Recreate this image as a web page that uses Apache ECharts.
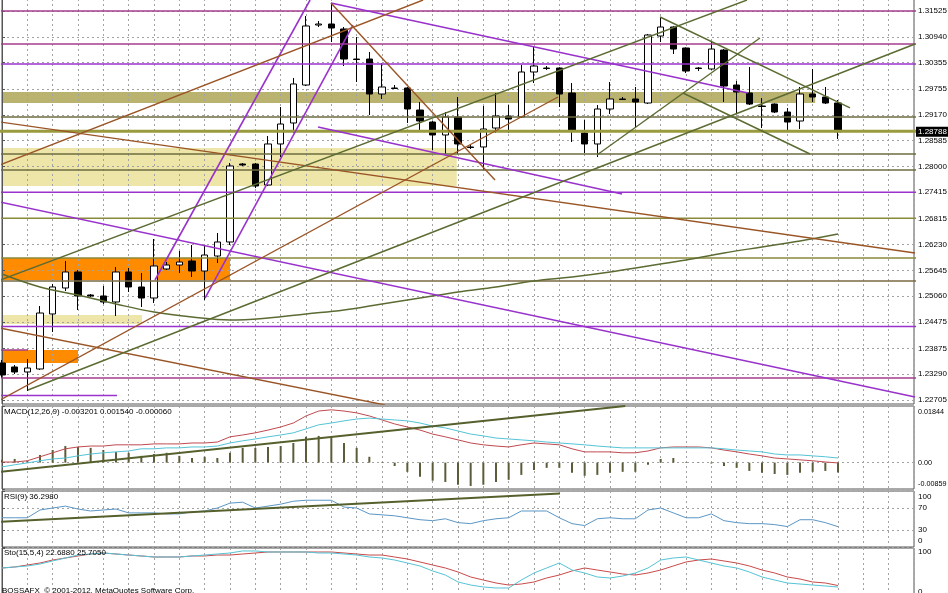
<!DOCTYPE html>
<html><head><meta charset="utf-8">
<script src="https://cdn.jsdelivr.net/npm/echarts@6/dist/echarts.min.js"></script>
<style>html,body{margin:0;padding:0;background:#fff}#c{width:948px;height:593px}</style>
</head><body><div id="c"></div>
<script>
// ---------- DATA ----------
const candleOpen = [1.23545,1.23454,1.23341,1.23409,1.24656,1.25245,1.25608,1.25086,1.25064,1.24928,
1.25608,1.25268,1.25018,1.25676,1.25766,1.25857,1.25630,1.25970,1.26288,1.28056,
1.28056,1.27580,1.28510,1.28986,1.29847,1.31207,1.31230,1.31117,1.30436,1.30436,
1.29643,1.29779,1.29779,1.29280,1.29008,1.28714,1.29122,1.28442,1.28442,1.28872,
1.29144,1.29122,1.30142,1.30232,1.30232,1.29666,1.28759,1.28510,1.29303,1.29530,
1.29530,1.29439,1.30958,1.31162,1.30686,1.30232,1.30210,1.30640,1.29847,1.29666,
1.29371,1.29416,1.29235,1.29031,1.29643,1.29575,1.29439];
const candleClose = [1.23273,1.23341,1.23431,1.24678,1.25268,1.25608,1.25064,1.25064,1.24928,1.25608,
1.25268,1.25018,1.25744,1.25766,1.25834,1.25630,1.25993,1.26288,1.28011,1.28033,
1.27557,1.28510,1.28963,1.29870,1.31185,1.31230,1.31139,1.30436,1.30425,1.29643,
1.29802,1.29768,1.29303,1.29031,1.28714,1.29122,1.28510,1.28430,1.28850,1.29144,
1.29076,1.30142,1.30278,1.30221,1.29643,1.28804,1.28510,1.29303,1.29530,1.29518,
1.29462,1.30981,1.31162,1.30663,1.30164,1.30221,1.30663,1.29824,1.29688,1.29416,
1.29360,1.29235,1.29008,1.29643,1.29575,1.29439,1.28788];
const candleLow = [1.23205,1.23295,1.22910,1.23386,1.24248,1.25177,1.24746,1.25041,1.24882,1.24610,
1.25154,1.24814,1.24905,1.25653,1.25585,1.25494,1.24973,1.25812,1.26220,1.28011,
1.27512,1.27557,1.28215,1.28759,1.29824,1.31162,1.30822,1.30278,1.29915,1.29167,
1.29530,1.29756,1.28986,1.28827,1.28373,1.28283,1.28283,1.28396,1.27920,1.28759,
1.28759,1.29100,1.29892,1.30187,1.29348,1.28555,1.28305,1.28215,1.29190,1.29507,
1.28872,1.29416,1.30822,1.30550,1.30119,1.30164,1.30190,1.29462,1.29212,1.29394,
1.28872,1.29212,1.28827,1.28850,1.29462,1.29416,1.28623];
const candleHigh = [1.23613,1.23499,1.23635,1.24837,1.25336,1.25857,1.25653,1.25109,1.25290,1.25721,
1.25698,1.25585,1.26356,1.25834,1.26084,1.26220,1.26220,1.26492,1.28079,1.28079,
1.28079,1.28691,1.29348,1.30006,1.31411,1.31298,1.31706,1.31162,1.30935,1.30595,
1.30346,1.29847,1.29800,1.29462,1.29031,1.29235,1.29575,1.28487,1.29371,1.29666,
1.29394,1.30300,1.30709,1.30278,1.30250,1.29892,1.29054,1.29394,1.29915,1.29575,
1.29802,1.31004,1.31389,1.31180,1.30700,1.30255,1.30822,1.30660,1.29938,1.30255,
1.29552,1.29430,1.29326,1.29802,1.30210,1.29802,1.29507];
const lastPrice = 1.28788;

// moving average curve: [bar index, price]
const maCurve = [[0,1.25562],[3,1.25268],[6,1.25086],[9,1.24882],[12,1.24701],[15,1.24588],[18,1.24520],
[21,1.24565],[24,1.24656],[27,1.24746],[30,1.24882],[33,1.25018],[36,1.25154],[39,1.25268],[42,1.25404],
[45,1.25494],[48,1.25608],[51,1.25744],[54,1.25880],[57,1.26039],[60,1.26175],[63,1.26311],[66,1.26469]];

const priceTicks = [1.31525,1.30940,1.30355,1.29755,1.29170,1.28585,1.28000,1.27415,1.26815,1.26230,1.25645,1.25060,1.24475,1.23875,1.23290,1.22705];
const priceRange = [1.22615, 1.31797];

// horizontal levels (prices)
const magentaLevels = [1.31525, 1.30777, 1.23205];
const violetLevels = [1.30323, 1.27415, 1.24372];
const darkOliveLevels = [1.29122, 1.28283, 1.27920];
const oliveLevels = [1.26825, 1.25925];
const brownOliveLevels = [1.25404];
const thickOliveLevels = [1.28800];
// short horizontal segments: [x1, x2, price]
const violetShort = [[-1, 9.08, 1.22808]];
const magentaShort = [[-1, 2.05, 1.23839]];

// zones: [x1, x2, priceTop, priceBottom]
const khakiZones = [[-1, 64.2, 1.29688, 1.29439]];
const paleZones = [[-1, 35.9, 1.28419, 1.27557], [-1, 11.05, 1.24633, 1.24429]];
const orangeZones = [[-1, 18.0, 1.25925, 1.25426], [-1, 6.0, 1.23839, 1.23545]];

// trend lines: [x1, price1, x2, price2]
const violetTrends = [[12.08,1.25426,24.32,1.31774],[16.03,1.25018,27.71,1.31207],[25.97,1.31706,58.89,1.29666],
[24.95,1.28895,48.95,1.27376],[-0.16,1.27195,72.08,1.22774]];
const brownTrends = [[-0.16,1.28033,33.24,1.31774],[-0.16,1.29008,72.08,1.26039],[-0.16,1.22706,43.89,1.29575],
[25.97,1.31706,38.92,1.27693],[-0.16,1.24338,30.24,1.22593]];
const greenTrends = [[-0.16,1.25426,58.81,1.31774],[2.05,1.22933,72.08,1.30777],[51.95,1.31389,66.95,1.29326],
[46.97,1.28260,59.84,1.30913],[53.76,1.29666,63.79,1.28283]];

// MACD
const macdHist = [0.0009,0.0012,0.0006,0.0025,0.0041,0.0054,0.0051,0.0048,0.0041,0.0035,
0.0032,0.0022,0.0028,0.0032,0.0022,0.0015,0.0019,0.0015,0.0032,0.0048,
0.0048,0.0051,0.0054,0.0064,0.0084,0.0087,0.0084,0.0064,0.0048,0.0019,
0.0002,-0.0011,-0.0030,-0.0046,-0.0059,-0.0063,-0.0072,-0.0076,-0.0072,-0.0063,
-0.0056,-0.0040,-0.0024,-0.0017,-0.0017,-0.0033,-0.0043,-0.0040,-0.0033,-0.0030,
-0.0030,-0.0007,0.0012,0.0015,0.0002,-0.0001,-0.0003,-0.0011,-0.0017,-0.0027,
-0.0033,-0.0037,-0.0040,-0.0033,-0.0030,-0.0027,-0.0032];
const macdRed = [0.0002,0.0002,0.0006,0.0019,0.0032,0.0045,0.0051,0.0054,0.0054,0.0058,
0.0058,0.0058,0.0061,0.0061,0.0061,0.0064,0.0064,0.0067,0.0084,0.0090,
0.0097,0.0106,0.0116,0.0129,0.0152,0.0168,0.0172,0.0168,0.0162,0.0152,
0.0139,0.0126,0.0116,0.0106,0.0093,0.0084,0.0074,0.0064,0.0058,0.0054,
0.0051,0.0058,0.0064,0.0061,0.0058,0.0045,0.0035,0.0035,0.0035,0.0032,
0.0032,0.0038,0.0048,0.0051,0.0051,0.0051,0.0048,0.0041,0.0035,0.0028,
0.0022,0.0015,0.0012,0.0009,0.0006,0.0002,-0.0001];
const macdCyan = [-0.0014,-0.0007,-0.0001,0.0006,0.0012,0.0015,0.0022,0.0028,0.0032,0.0035,
0.0038,0.0045,0.0045,0.0048,0.0048,0.0051,0.0051,0.0054,0.0064,0.0071,
0.0077,0.0084,0.0090,0.0097,0.0110,0.0123,0.0129,0.0136,0.0142,0.0145,
0.0142,0.0139,0.0136,0.0129,0.0119,0.0113,0.0103,0.0093,0.0087,0.0080,
0.0077,0.0074,0.0071,0.0067,0.0064,0.0061,0.0058,0.0054,0.0051,0.0048,
0.0048,0.0048,0.0048,0.0048,0.0048,0.0048,0.0048,0.0045,0.0041,0.0038,
0.0035,0.0028,0.0025,0.0025,0.0022,0.0019,0.0015];
const macdTrend = [[-0.16,-0.0030],[49.2,0.01843]];
const macdTicks = [0.01844, 0, -0.00859];

// RSI
const rsiValues = [52.2,52.2,52.2,66.1,69.6,73.0,67.8,64.3,66.1,67.8,
60.9,60.9,60.9,59.1,59.1,62.6,64.3,69.6,78.3,80.0,
69.6,73.0,76.5,81.7,83.5,83.5,83.5,71.3,69.6,59.1,
57.4,55.7,52.2,48.7,47.0,50.4,43.5,41.7,47.0,50.4,
52.2,64.3,64.3,64.3,52.2,41.7,38.3,50.4,52.2,50.4,
50.4,66.1,69.6,60.9,52.2,52.2,59.1,47.0,43.5,41.7,
41.7,40.0,36.5,48.7,48.7,43.5,36.3];
const rsiTrend = [[-0.16,45.2],[44.05,95.7]];
const rsiTicks = [100, 70, 30, 0];

// Stochastic
const stoMain = [60.4,62.4,64.4,68.3,74.3,80.2,86.1,88.1,90.1,88.1,
86.1,84.2,82.2,82.2,82.2,84.2,86.1,88.1,90.1,94.1,
94.1,92.1,92.1,92.1,92.1,90.1,90.1,88.1,86.1,82.2,
80.2,76.2,70.3,64.4,54.5,46.5,32.7,26.7,22.8,20.8,
20.8,36.6,50.5,60.4,70.3,56.4,50.5,42.6,40.6,44.5,
50.5,60.4,76.2,80.2,82.2,76.2,70.3,64.4,60.4,52.5,
42.6,36.6,30.7,28.7,26.7,24.8,22.7];
const stoSignal = [60.4,62.4,66.3,70.3,76.2,80.2,84.2,88.1,90.1,88.1,
86.1,84.2,82.2,82.2,82.2,84.2,84.2,86.1,86.1,88.1,
90.1,92.1,92.1,92.1,92.1,92.1,92.1,90.1,88.1,86.1,
86.1,82.2,78.2,72.3,66.3,60.4,52.5,42.6,36.6,30.7,
26.7,28.7,32.7,40.6,46.5,54.5,60.4,56.4,52.5,48.5,
46.5,50.5,56.4,64.4,72.3,76.2,78.2,74.3,70.3,64.4,
56.4,50.5,42.6,38.6,32.7,30.7,25.7];
const stoTicks = [100, 0];

const texts = ['MACD(12,26,9) -0.003201 0.001540 -0.000060', 'RSI(9) 36.2980', 'Sto(15,5,4) 22.6880 25.7050',
  'BOSSAFX  \u00A9 2001-2012, MetaQuotes Software Corp.'];

// ---------- CHART ----------
const FONT = "'Liberation Sans', Arial, sans-serif";
const N_SLOTS = 73;
const slots = Array.from({length: N_SLOTS}, (_, i) => String(i));
const dash = {type: [2, 3], color: '#a3a3a3', width: 1};

const grids = [
  {top: -1, height: 405},
  {top: 406, height: 83},
  {top: 491, height: 56},
  {top: 548, height: 50.5}
].map(g => Object.assign({left: 2, width: 912, show: true, borderColor: '#555', borderWidth: 1,
  containLabel: false, outerBoundsMode: 'none'}, g));

const xAxes = [];
grids.forEach((g, gi) => {
  xAxes.push({type: 'category', gridIndex: gi, data: slots, boundaryGap: false,
    axisLine: {show: false}, axisTick: {show: false}, axisLabel: {show: false},
    splitLine: {show: true, interval: 1, lineStyle: dash}, z: 2});
  xAxes.push({type: 'value', gridIndex: gi, min: 0, max: N_SLOTS - 1, show: false});
});

function yAx(gi, range, ticks, fmt, padTop, padBot, fs) {
  const lab = {fontSize: fs, fontFamily: FONT, color: '#000'};
  return {
    type: 'value', gridIndex: gi, position: 'right', min: range[0], max: range[1],
    axisLine: {show: true, lineStyle: {color: '#555', width: 1}},
    axisTick: {show: true, length: 3, customValues: ticks, lineStyle: {color: '#555'}},
    axisLabel: Object.assign({}, lab, {
      customValues: ticks, margin: 4,
      formatter: v => {
        const s = fmt(v);
        if (padTop && Math.abs(v - range[1]) < 1e-9) return '{t|' + s + '}';
        if (padBot && Math.abs(v - range[0]) < 1e-9) return '{b|' + s + '}';
        return s;
      },
      rich: {t: Object.assign({padding: [padTop * 2, 0, 0, 0]}, lab), b: Object.assign({padding: [0, 0, padBot * 2, 0]}, lab)}
    }),
    splitLine: {show: true, lineStyle: dash}, z: 2
  };
}
const yAxes = [
  yAx(0, priceRange, priceTicks, v => v.toFixed(5), 0, 0, 8),
  yAx(1, [macdTicks[2], macdTicks[0]], macdTicks, v => v === 0 ? '0.00' : v.toFixed(5), 6, 5, 7.2),
  yAx(2, [0, 100], rsiTicks, v => String(v), 6, 6, 8),
  yAx(3, [0, 100], stoTicks, v => String(v), 4, 7, 8),
  // current price tag on the price scale
  {type: 'value', gridIndex: 0, position: 'right', min: priceRange[0], max: priceRange[1], z: 6,
    axisLine: {show: false}, axisTick: {show: false}, splitLine: {show: false},
    axisLabel: {customValues: [lastPrice], formatter: v => v.toFixed(5), margin: 2,
      backgroundColor: '#000', color: '#fff', fontSize: 8, fontFamily: FONT, padding: [1, 2, 1, 2]}}
];

const series = [];
function seg(data, color, width, xi, yi, z) {
  series.push({type: 'line', xAxisIndex: xi, yAxisIndex: yi, data, symbol: 'none', silent: true,
    z: z || 4, lineStyle: {color, width}, clip: true});
}

// zones
const zoneColors = {khaki: '#bab26f', pale: '#eee6a8', orange: '#ff8c00'};
const zones = [];
khakiZones.forEach(z => zones.push(z.concat(['khaki'])));
paleZones.forEach(z => zones.push(z.concat(['pale'])));
orangeZones.forEach(z => zones.push(z.concat(['orange'])));
series.push({
  type: 'custom', xAxisIndex: 1, yAxisIndex: 0, z: 1, silent: true, clip: true,
  data: zones.map(z => [z[0], z[1], z[2], z[3]]),
  encode: {x: [0, 1], y: [2, 3]},
  renderItem: (params, api) => {
    const p1 = api.coord([api.value(0), api.value(2)]);
    const p2 = api.coord([api.value(1), api.value(3)]);
    const cs = params.coordSys;
    const shape = echarts.graphic.clipRectByRect(
      {x: p1[0], y: p1[1], width: p2[0] - p1[0], height: p2[1] - p1[1]},
      {x: cs.x, y: cs.y, width: cs.width, height: cs.height});
    return shape && {type: 'rect', shape, style: {fill: zoneColors[zones[params.dataIndex][4]]}};
  }
});

// candles
series.push({
  type: 'candlestick', xAxisIndex: 0, yAxisIndex: 0, z: 3, barWidth: 7, clip: true,
  data: candleOpen.map((o, i) => [o, candleClose[i], candleLow[i], candleHigh[i]]),
  itemStyle: {color: '#fff', color0: '#000', borderColor: '#000', borderColor0: '#000', borderWidth: 1}
});

// horizontal levels
const full = p => [[-1, p], [N_SLOTS, p]];
magentaLevels.forEach(p => seg(full(p), '#a53c8c', 1.5, 1, 0));
violetLevels.forEach(p => seg(full(p), '#9a32cc', 1.6, 1, 0));
darkOliveLevels.forEach(p => seg(full(p), '#6d6d40', 1.4, 1, 0));
oliveLevels.forEach(p => seg(full(p), '#8a8a3c', 1.5, 1, 0));
brownOliveLevels.forEach(p => seg(full(p), '#7a6842', 1.5, 1, 0));
thickOliveLevels.forEach(p => seg(full(p), '#9a9a3e', 3, 1, 0));
violetShort.forEach(s => seg([[s[0], s[2]], [s[1], s[2]]], '#9a32cc', 1.5, 1, 0));
magentaShort.forEach(s => seg([[s[0], s[2]], [s[1], s[2]]], '#a53c8c', 1.5, 1, 0));

// trend lines
violetTrends.forEach(t => seg([[t[0], t[1]], [t[2], t[3]]], '#9932cc', 1.6, 1, 0, 5));
brownTrends.forEach(t => seg([[t[0], t[1]], [t[2], t[3]]], '#9a5526', 1.4, 1, 0, 5));
greenTrends.forEach(t => seg([[t[0], t[1]], [t[2], t[3]]], '#5b6b32', 1.4, 1, 0, 5));

// moving average
series.push({type: 'line', xAxisIndex: 1, yAxisIndex: 0, data: maCurve, smooth: 0.4, symbol: 'none',
  silent: true, z: 4, lineStyle: {color: '#5b6b32', width: 1.5}});

// MACD
series.push({type: 'bar', xAxisIndex: 2, yAxisIndex: 1, data: macdHist, barWidth: 2, silent: true, z: 3,
  itemStyle: {color: '#5c5c3a'}});
series.push({type: 'line', xAxisIndex: 2, yAxisIndex: 1, data: macdRed, symbol: 'none', silent: true, z: 4,
  lineStyle: {color: '#c04a50', width: 1}});
series.push({type: 'line', xAxisIndex: 2, yAxisIndex: 1, data: macdCyan, symbol: 'none', silent: true, z: 4,
  lineStyle: {color: '#55c4d6', width: 1}});
seg(macdTrend, '#55602c', 2, 3, 1, 5);

// RSI
series.push({type: 'line', xAxisIndex: 4, yAxisIndex: 2, data: rsiValues, symbol: 'none', silent: true, z: 4,
  lineStyle: {color: '#5b97c6', width: 1}});
seg(rsiTrend, '#55602c', 2, 5, 2, 5);

// Stochastic
series.push({type: 'line', xAxisIndex: 6, yAxisIndex: 3, data: stoSignal, symbol: 'none', silent: true, z: 4,
  lineStyle: {color: '#c84a4a', width: 1}});
series.push({type: 'line', xAxisIndex: 6, yAxisIndex: 3, data: stoMain, symbol: 'none', silent: true, z: 4,
  lineStyle: {color: '#55c4d6', width: 1}});

const titleTops = [408, 493, 549, 587];
const title = texts.map((t, i) => ({text: t, left: i === 3 ? 2 : 4, top: titleTops[i], padding: 0,
  textStyle: {fontSize: 8, fontWeight: 'normal', color: '#000', fontFamily: FONT}}));

const chart = echarts.init(document.getElementById('c'), null, {renderer: 'canvas'});
chart.setOption({
  animation: false,
  backgroundColor: '#fff',
  title,
  grid: grids,
  xAxis: xAxes,
  yAxis: yAxes,
  series
});
</script></body></html>
